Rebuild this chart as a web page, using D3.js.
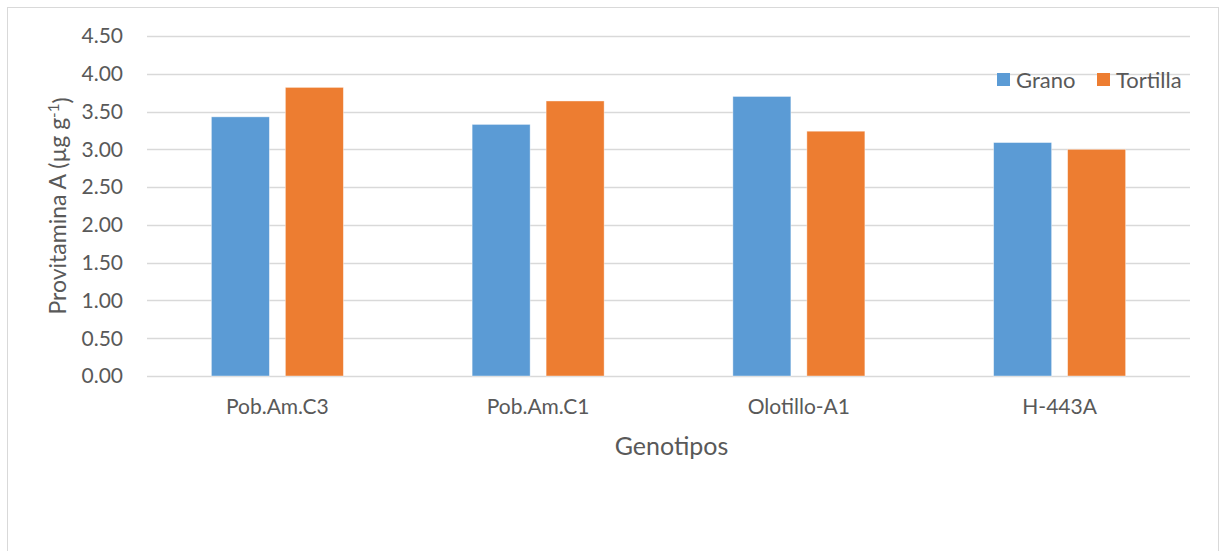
<!DOCTYPE html>
<html>
<head>
<meta charset="utf-8">
<script src="https://cdn.jsdelivr.net/npm/d3@7"></script>
<style>
  html, body { margin: 0; padding: 0; background: #fff; }
  svg { display: block; }
  text { font-family: Lato, "Open Sans", sans-serif; fill: #595959; }
</style>
</head>
<body>
<svg id="chart" width="1219" height="551"></svg>
<script>
// Provitamina A por genotipo, grano vs. tortilla
const categories = ["Pob.Am.C3", "Pob.Am.C1", "Olotillo-A1", "H-443A"];
const seriesNames = ["Grano", "Tortilla"];
const grano = [3.43, 3.33, 3.70, 3.09];
const tortilla = [3.82, 3.64, 3.24, 3.00];
const yTicks = [0, 0.5, 1, 1.5, 2, 2.5, 3, 3.5, 4, 4.5];
const colors = ["#5B9BD5", "#ED7D31"];

const svg = d3.select("#chart");
const W = 1219, H = 551;

// chart frame
svg.append("rect")
  .attr("x", 7.5).attr("y", 7.5)
  .attr("width", W - 8).attr("height", H - 4)
  .attr("fill", "#fff").attr("stroke", "#d9d9d9").attr("stroke-width", 1);

const plot = { left: 147, right: 1190, top: 36, bottom: 376 };

const x0 = d3.scaleBand().domain(categories)
  .range([plot.left, plot.right]).paddingInner(0).paddingOuter(0);
const x1 = d3.scaleBand().domain(seriesNames)
  .range([0, x0.bandwidth()]).paddingInner(0.216).paddingOuter(0.87);
const y = d3.scaleLinear().domain([0, 4.5]).range([plot.bottom, plot.top]);

// gridlines
svg.append("g").selectAll("line").data(yTicks).join("line")
  .attr("x1", plot.left).attr("x2", plot.right)
  .attr("y1", d => Math.round(y(d)) + 0.5).attr("y2", d => Math.round(y(d)) + 0.5)
  .attr("stroke", "#d9d9d9").attr("stroke-width", 1.3);

// y tick labels
svg.append("g").selectAll("text").data(yTicks).join("text")
  .attr("x", 123).attr("y", d => y(d))
  .attr("dy", "0.35em").attr("text-anchor", "end")
  .attr("font-size", 21)
  .text(d => d.toFixed(2));

// bars
const rows = categories.map((c, i) => ({ cat: c, values: [grano[i], tortilla[i]] }));
const groups = svg.append("g").selectAll("g").data(rows).join("g")
  .attr("transform", d => `translate(${x0(d.cat)},0)`);
groups.selectAll("rect")
  .data(d => d.values.map((v, j) => ({ key: seriesNames[j], v, j })))
  .join("rect")
  .attr("x", d => x1(d.key))
  .attr("width", x1.bandwidth())
  .attr("y", d => y(d.v))
  .attr("height", d => y(0) - y(d.v))
  .attr("fill", d => colors[d.j])
  .attr("stroke", "#fff").attr("stroke-opacity", 0.5).attr("stroke-width", 0.8);

// x category labels
svg.append("g").selectAll("text").data(categories).join("text")
  .attr("x", d => x0(d) + x0.bandwidth() / 2)
  .attr("y", 407).attr("dy", "0.35em")
  .attr("text-anchor", "middle").attr("font-size", 21)
  .text(d => d);

// axis titles
svg.append("text")
  .attr("x", (plot.left + plot.right) / 2 + 3).attr("y", 446).attr("dy", "0.35em")
  .attr("text-anchor", "middle").attr("font-size", 25)
  .text("Genotipos");

const yt = svg.append("text")
  .attr("transform", "translate(58,206) rotate(-90)")
  .attr("dy", "0.35em")
  .attr("text-anchor", "middle").attr("font-size", 23);
yt.append("tspan").text("Provitamina A (µg g");
yt.append("tspan").attr("dy", "-0.5em").attr("font-size", 15).text("-1");
yt.append("tspan").attr("dy", "0.5em").text(")");

// legend
const legend = svg.append("g");
const legendX = [997, 1097];
seriesNames.forEach((name, i) => {
  legend.append("rect")
    .attr("x", legendX[i]).attr("y", 73).attr("width", 13).attr("height", 13)
    .attr("fill", colors[i]);
  legend.append("text")
    .attr("x", legendX[i] + 19).attr("y", 80).attr("dy", "0.35em")
    .attr("font-size", 22)
    .text(name);
});
</script>
</body>
</html>
